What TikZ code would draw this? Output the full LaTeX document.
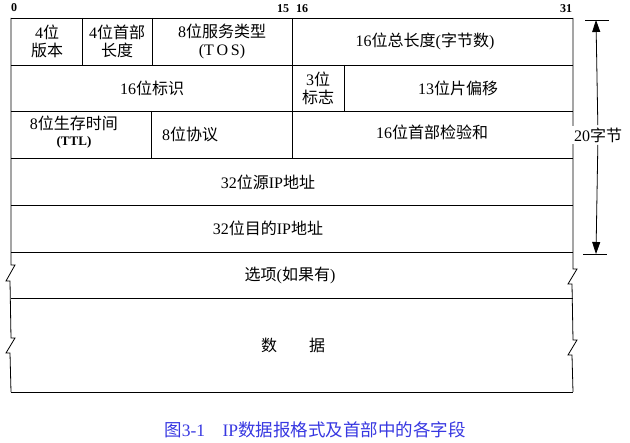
\documentclass[tikz,border=0pt]{standalone}
\usepackage{fontspec}
\setmainfont{Liberation Serif}
\newfontfamily\cjk{Noto Sans CJK SC}
\newcommand\zh[1]{{\cjk #1}}
\definecolor{capblue}{RGB}{55,55,225}
\usetikzlibrary{arrows.meta}

\begin{document}
\begin{tikzpicture}[x=1pt,y=-1pt,line width=0.8pt,font=\fontsize{16}{18}\selectfont,
  fld/.style={align=center,inner sep=1pt},
  bitno/.style={font=\fontsize{12}{14}\selectfont\bfseries},
  tip/.style={-{Triangle[length=12pt,width=8pt]}}]
  \useasboundingbox (0,0) rectangle (630,443);
  \def\L{11} \def\R{573}
  % row lines
  \foreach \y in {18,65,111,158,205,252,298,392} {
    \draw (\L,\y) -- (\R,\y);
  }
  % sides, broken at options and data
  \draw (\L,18) -- (\L,265) -- ++(4,0) -- ++(-9,16) -- ++(4,0)
    -- (\L,338) -- ++(4,0) -- ++(-9,15) -- ++(4,0) -- (\L,392);
  \draw (\R,18) -- (\R,269) -- ++(4,0) -- ++(-9,15) -- ++(4,0)
    -- (\R,340) -- ++(4,0) -- ++(-9,15) -- ++(4,0) -- (\R,392);
  % field dividers
  \draw (82,18) -- (82,65) (152,18) -- (152,65) (292,18) -- (292,158)
    (344,65) -- (344,111) (151,111) -- (151,158);
  % bit numbers
  \node[bitno] (b0) at (14,8) {0};
  \node[bitno] (b15) at (283,9) {15};
  \node[bitno] (b16) at (302,9) {16};
  \node[bitno] (b31) at (566,9) {31};
  % fields
  \node[fld] (ver) at (47,41) {4\zh{位}\\\zh{版本}};
  \node[fld] (hlen) at (117,41) {4\zh{位首部}\\\zh{长度}};
  \node[fld] (tos) at (222,41) {8\zh{位服务类型}\\(T\,O\,S)};
  \node[fld] (tlen) at (425,41) {16\zh{位总长度}(\zh{字节数})};
  \node[fld] (ident) at (152,88) {16\zh{位标识}};
  \node[fld] (flag) at (318,88) {3\zh{位}\\\zh{标志}};
  \node[fld] (frag) at (458,88) {13\zh{位片偏移}};
  \node[fld] (ttl) at (74,132) {8\zh{位生存时间}\\[-2pt]{\fontsize{13}{15}\selectfont\bfseries (TTL)}};
  \node[fld] (proto) at (190,134) {8\zh{位协议}};
  \node[fld] (csum) at (432,132) {16\zh{位首部检验和}};
  \node[fld] (src) at (268,182) {32\zh{位源}IP\zh{地址}};
  \node[fld] (dst) at (268,228) {32\zh{位目的}IP\zh{地址}};
  \node[fld] (opt) at (290,275) {\zh{选项}(\zh{如果有})};
  \node[fld] (data) at (293,345) {\zh{数}\hspace{2em}\zh{据}};
  % 20 bytes
  \coordinate (top) at (596,20);
  \coordinate (bot) at (596,254);
  \draw (585,20) -- (609,20) (583,254) -- (607,254);
  \node[fill=white,inner sep=2pt] (len) at (598,135) {20\zh{字节}};
  \draw[tip] (len) -- (top);
  \draw[tip] (len) -- (bot);
  % caption
  \node[text=capblue,font=\fontsize{17.5}{20}\selectfont] (cap) at (315,430)
    {\zh{图}3-1\hspace{1em}IP\zh{数据报格式及首部中的各字段}};
\end{tikzpicture}
\end{document}
